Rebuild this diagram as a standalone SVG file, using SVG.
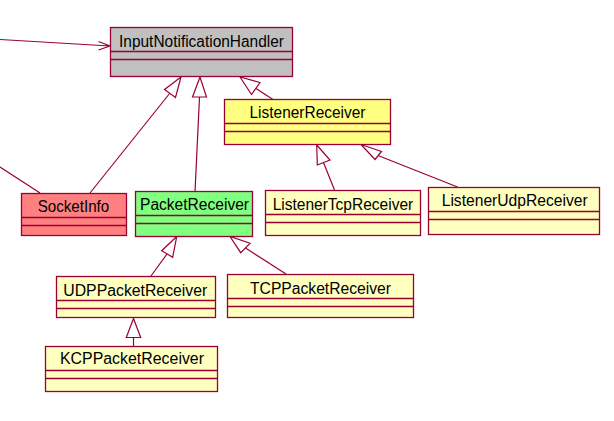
<svg xmlns="http://www.w3.org/2000/svg" width="614" height="421" viewBox="0 0 614 421">
<style>
.box{stroke:#990033;stroke-width:1.3}
.div{stroke:#990033;stroke-width:1.3;fill:none}
.t{font-family:"Liberation Sans",Arial,sans-serif;font-size:16px;fill:#000}
.ln{stroke:#990033;stroke-width:1.2;fill:none}
.tri{stroke:#990033;stroke-width:1.2;fill:#fff}
</style>
<rect width="614" height="421" fill="#fff"/>
<g id="connectors">
<path class="ln" d="M0,39.5 L110,46 M98.5,41.5 L110,46 L98.5,50"/>
<path class="ln" d="M0,167 L40,193"/>
<path class="ln" d="M90,193 L170,93"/>
<polygon class="tri" points="181,77 164.5,89.5 175.5,97.5"/>
<path class="ln" d="M195,192 L199.5,97"/>
<polygon class="tri" points="200,77 192.5,97 206.5,97"/>
<path class="ln" d="M273,99.5 L256,88.5"/>
<polygon class="tri" points="240,77 251.5,94.5 260,82.5"/>
<path class="ln" d="M334.5,190 L323.5,162.5"/>
<polygon class="tri" points="316.7,145 317.3,165 330,160"/>
<path class="ln" d="M457.5,187 L378,155.5"/>
<polygon class="tri" points="361,144.5 375,159.5 381.5,151.5"/>
<path class="ln" d="M151,276 L167,254"/>
<polygon class="tri" points="176.7,236.5 161.7,250.7 172.7,257.3"/>
<path class="ln" d="M286,274 L245.5,248"/>
<polygon class="tri" points="230,236.5 240.7,252.7 250,243.3"/>
<path class="ln" d="M133.5,346.5 L133.5,337.5"/>
<polygon class="tri" points="133.5,318.5 126.3,337.5 140.7,337.5"/>
</g>
<g id="InputNotificationHandler">
<rect class="box" x="110.5" y="27.5" width="182" height="49" fill="#C0C0C0"/>
<path class="div" d="M110.5,51.5 H292.5 M110.5,59.5 H292.5"/>
<text class="t" x="119" y="46.5" textLength="165" lengthAdjust="spacingAndGlyphs">InputNotificationHandler</text>
</g>
<g id="ListenerReceiver">
<rect class="box" x="224.5" y="99.5" width="166" height="45" fill="#FFFF80"/>
<path class="div" d="M224.5,123.5 H390.5 M224.5,131.5 H390.5"/>
<text class="t" x="249.5" y="118" textLength="116" lengthAdjust="spacingAndGlyphs">ListenerReceiver</text>
</g>
<g id="ListenerTcpReceiver">
<rect class="box" x="265.5" y="190.5" width="155" height="45" fill="#FFFFC0"/>
<path class="div" d="M265.5,214.5 H420.5 M265.5,222.5 H420.5"/>
<text class="t" x="272.7" y="210" textLength="140.5" lengthAdjust="spacingAndGlyphs">ListenerTcpReceiver</text>
</g>
<g id="ListenerUdpReceiver">
<rect class="box" x="428.5" y="187.5" width="171" height="47" fill="#FFFFC0"/>
<path class="div" d="M428.5,211.5 H599.5 M428.5,219.5 H599.5"/>
<text class="t" x="441.7" y="206" textLength="146" lengthAdjust="spacingAndGlyphs">ListenerUdpReceiver</text>
</g>
<g id="SocketInfo">
<rect class="box" x="21.5" y="193.5" width="105" height="42" fill="#FF8080"/>
<path class="div" d="M21.5,217.5 H126.5 M21.5,225.5 H126.5"/>
<text class="t" x="37.7" y="211.5" textLength="71.5" lengthAdjust="spacingAndGlyphs">SocketInfo</text>
</g>
<g id="PacketReceiver">
<rect class="box" x="135.5" y="191.5" width="117" height="45" fill="#80FF80"/>
<path class="div" d="M135.5,215.5 H252.5 M135.5,223.5 H252.5"/>
<text class="t" x="140" y="209.5" textLength="109" lengthAdjust="spacingAndGlyphs">PacketReceiver</text>
</g>
<g id="UDPPacketReceiver">
<rect class="box" x="56.5" y="276.5" width="159" height="41" fill="#FFFFC0"/>
<path class="div" d="M56.5,300.5 H215.5 M56.5,308.5 H215.5"/>
<text class="t" x="63.3" y="295.7" textLength="144" lengthAdjust="spacingAndGlyphs">UDPPacketReceiver</text>
</g>
<g id="TCPPacketReceiver">
<rect class="box" x="227.5" y="274.5" width="186" height="43" fill="#FFFFC0"/>
<path class="div" d="M227.5,298.5 H413.5 M227.5,306.5 H413.5"/>
<text class="t" x="250" y="294" textLength="141" lengthAdjust="spacingAndGlyphs">TCPPacketReceiver</text>
</g>
<g id="KCPPacketReceiver">
<rect class="box" x="45.5" y="346.5" width="172" height="45" fill="#FFFFC0"/>
<path class="div" d="M45.5,370.5 H217.5 M45.5,378.5 H217.5"/>
<text class="t" x="60" y="364.3" textLength="144" lengthAdjust="spacingAndGlyphs">KCPPacketReceiver</text>
</g>
</svg>
